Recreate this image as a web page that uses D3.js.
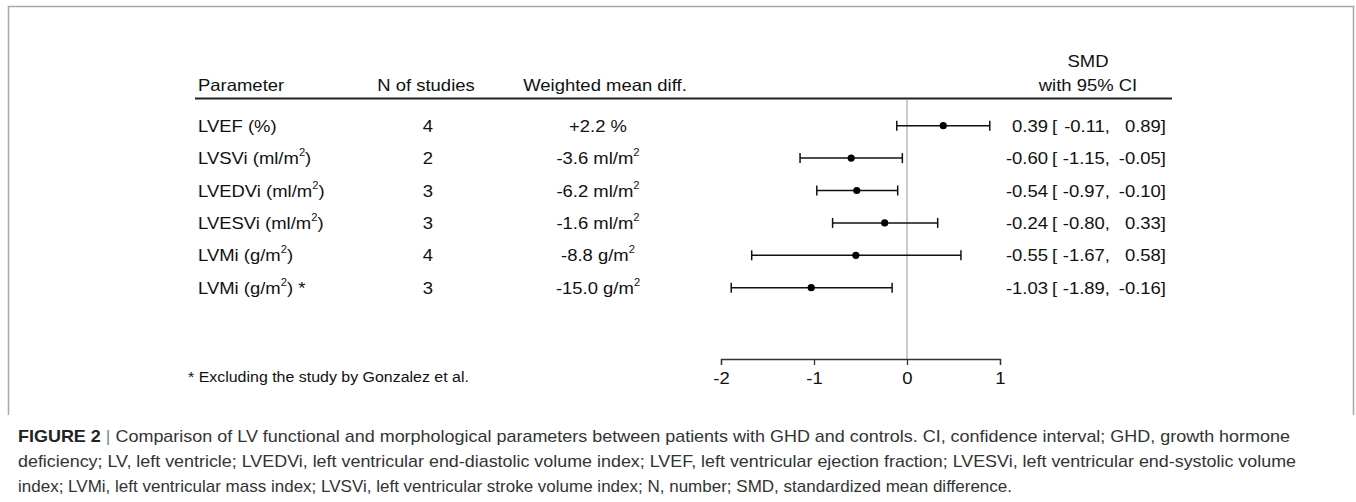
<!DOCTYPE html>
<html><head><meta charset="utf-8">
<script src="https://cdn.jsdelivr.net/npm/d3@7"></script>
<style>
body{margin:0;background:#fff;}
svg{display:block;}
text{font-family:"Liberation Sans",Arial,sans-serif;}
</style></head>
<body>
<svg id="c" width="1356" height="502"></svg>
<script>
const parameters = ["LVEF (%)", "LVSVi (ml/m^2)", "LVEDVi (ml/m^2)", "LVESVi (ml/m^2)", "LVMi (g/m^2)", "LVMi (g/m^2) *"];
const nStudies = [4, 2, 3, 3, 4, 3];
const weightedDiff = ["+2.2 %", "-3.6 ml/m^2", "-6.2 ml/m^2", "-1.6 ml/m^2", "-8.8 g/m^2", "-15.0 g/m^2"];
const smd = [0.39, -0.60, -0.54, -0.24, -0.55, -1.03];
const ciLower = [-0.11, -1.15, -0.97, -0.80, -1.67, -1.89];
const ciUpper = [0.89, -0.05, -0.10, 0.33, 0.58, -0.16];
const xTicks = [-2, -1, 0, 1];
const captionLines = [
 "Comparison of LV functional and morphological parameters between patients with GHD and controls. CI, confidence interval; GHD, growth hormone",
 "deficiency; LV, left ventricle; LVEDVi, left ventricular end-diastolic volume index; LVEF, left ventricular ejection fraction; LVESVi, left ventricular end-systolic volume",
 "index; LVMi, left ventricular mass index; LVSVi, left ventricular stroke volume index; N, number; SMD, standardized mean difference."
];

const svg = d3.select("#c");
const loc = d3.formatLocale({decimal:".", thousands:",", grouping:[3], currency:["",""], minus:"-"});
const fmt = loc.format(".2f");
const fmtInt = loc.format("d");
const SX = 1.12;

// frame
svg.append("path").attr("d","M8.5,415 V6.5 H1353.5 V415")
  .attr("fill","none").attr("stroke","#a8a8a8").attr("stroke-width",1.5);

const x = d3.scaleLinear().domain([-2,1]).range([721,1000]);
const y = d3.scalePoint().domain(d3.range(parameters.length)).range([125.7,287.7]);

const g = svg.append("g").attr("font-size",16.5).attr("fill","#111");

function T(parent, px, py, anchor, sx){
  return parent.append("g").attr("transform",`translate(${px},${py}) scale(${sx||SX},1)`)
    .append("text").attr("x",0).attr("y",0).attr("text-anchor",anchor||"start");
}

// headers
const hdr = g.append("g");
T(hdr,198,91).text("Parameter");
T(hdr,426,91,"middle").text("N of studies");
T(hdr,605,91,"middle").text("Weighted mean diff.");
T(hdr,1088,67,"middle").text("SMD");
T(hdr,1088,91,"middle").text("with 95% CI");

g.append("line").attr("x1",195).attr("x2",1172).attr("y1",98.5).attr("y2",98.5)
  .attr("stroke","#222").attr("stroke-width",2);

// zero line
g.append("line").attr("x1",x(0)).attr("x2",x(0)).attr("y1",99).attr("y2",359)
  .attr("stroke","#999").attr("stroke-width",1);

function supText(sel, str){
  const parts = str.split("^2");
  parts.forEach((p,i)=>{
    if(i>0){
      sel.append("tspan").attr("font-size",10).attr("dy",-8).text("2");
      if(p!=="") sel.append("tspan").attr("dy",8).text(p);
    } else {
      sel.append("tspan").text(p);
    }
  });
}

const rows = g.append("g");
parameters.forEach((p,i)=>{
  const yy = y(i)+6;
  supText(T(rows,198,yy), p);
  T(rows,428,yy,"middle").text(nStudies[i]);
  supText(T(rows,598,yy,"middle"), weightedDiff[i]);
  T(rows,1048,yy,"end").text(fmt(smd[i]));
  T(rows,1052,yy).text("[");
  T(rows,1110,yy,"end").text(fmt(ciLower[i])+",");
  T(rows,1166,yy,"end").text(fmt(ciUpper[i])+"]");
});

// error bars
const eb = g.append("g").attr("stroke","#111").attr("stroke-width",1.5);
smd.forEach((v,i)=>{
  const yy = y(i);
  eb.append("line").attr("x1",x(ciLower[i])).attr("x2",x(ciUpper[i])).attr("y1",yy).attr("y2",yy);
  eb.append("line").attr("x1",x(ciLower[i])).attr("x2",x(ciLower[i])).attr("y1",yy-5).attr("y2",yy+5);
  eb.append("line").attr("x1",x(ciUpper[i])).attr("x2",x(ciUpper[i])).attr("y1",yy-5).attr("y2",yy+5);
});
g.append("g").selectAll("circle").data(smd).join("circle")
  .attr("cx",d=>x(d)).attr("cy",(d,i)=>y(i)).attr("r",3.6).attr("fill","#000");

// axis
const ax = g.append("g").attr("transform","translate(0,359)")
  .call(d3.axisBottom(x).tickValues(xTicks).tickSize(6).tickFormat(fmtInt));
ax.selectAll("path,line").attr("stroke","#333").attr("stroke-width",1.3);
ax.selectAll("text").attr("font-size",16.5).attr("font-family","'Liberation Sans',Arial,sans-serif")
  .attr("fill","#111").attr("dy",0).attr("y",25)
  .attr("transform",`scale(${SX},1)`);

// footnote
T(g,188,382,"start",1.1).attr("font-size",14.5).text("* Excluding the study by Gonzalez et al.");

// caption
const cap = svg.append("g").attr("font-size",17).attr("fill","#333");
const l0 = cap.append("text").attr("x",18).attr("y",442)
  .attr("textLength",1272).attr("lengthAdjust","spacingAndGlyphs");
l0.append("tspan").attr("font-weight","bold").attr("fill","#222").text("FIGURE 2");
l0.append("tspan").attr("fill","#888").text(" | ");
l0.append("tspan").text(captionLines[0]);
cap.append("text").attr("x",18).attr("y",467).attr("textLength",1278).attr("lengthAdjust","spacingAndGlyphs").text(captionLines[1]);
cap.append("text").attr("x",18).attr("y",492).attr("textLength",994).attr("lengthAdjust","spacingAndGlyphs").text(captionLines[2]);
</script>
</body></html>
